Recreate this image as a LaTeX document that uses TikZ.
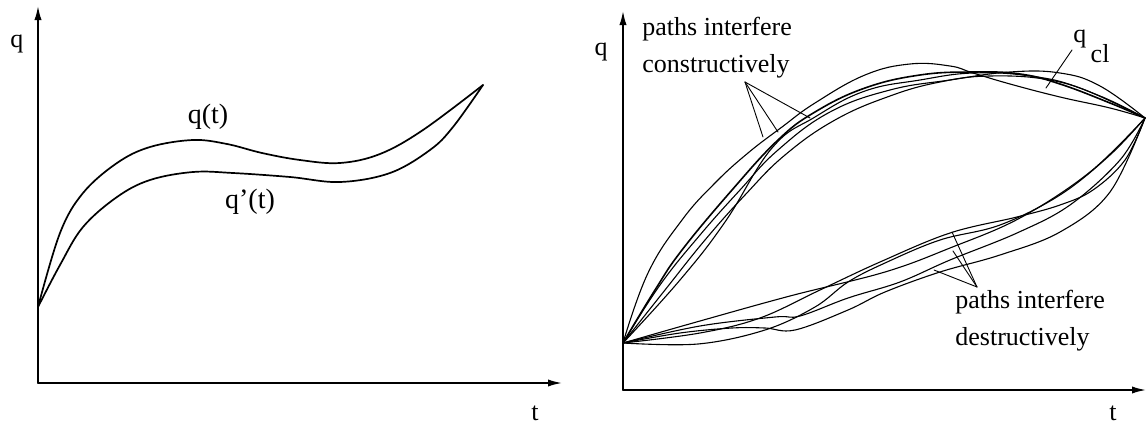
\documentclass[tikz,border=0pt]{standalone}
\usepackage{fontspec}
\setmainfont{Liberation Serif}
\usetikzlibrary{arrows.meta}

\begin{document}
\begin{tikzpicture}[
    x=0.5pt, y=-0.5pt,
    line cap=round,
    line join=round,
    axis/.style={line width=0.8pt, -{Latex[length=7pt,width=3.6pt]}},
    traj/.style={line width=0.55pt},
    lbl/.style={font=\fontsize{13}{18.5}\selectfont, inner sep=0pt},
    pointer/.style={line width=0.45pt}
]
\useasboundingbox (0,0) rectangle (1148,423);

% 1. Left panel: two neighbouring paths
\coordinate (O1) at (38,383);
\draw[axis] (O1) -- (38,6);
\draw[axis] (O1) -- (562,383);
\node[lbl, anchor=base] (q1) at (17,47) {q};
\node[lbl, anchor=base] (t1) at (535,420) {t};
\draw[line width=0.85pt] plot[smooth, tension=0.6] coordinates {(38,307) (60,233) (83,193) (117,163) (150,147) (193,140) (227,144) (262,153) (300,160) (340,163) (380,154) (423,130) (483,85)};
\draw[line width=0.85pt] plot[smooth, tension=0.6] coordinates {(38,307) (60,265) (83,227) (117,197) (150,180) (193,172) (233,173) (290,177) (340,182) (390,173) (430,150) (453,127) (483,85)};
\node[lbl, font=\fontsize{14}{16}\selectfont, anchor=base] (qt) at (208,123) {q(t)};
\node[lbl, font=\fontsize{14}{16}\selectfont, anchor=base] (qpt) at (250,208) {q’(t)};

% 2. Right panel: many paths between the same end points
\coordinate (O2) at (623,390);
\draw[axis] (O2) -- (623,11);
\draw[axis] (O2) -- (1146,390);
\node[lbl, anchor=base] (q2) at (601,55) {q};
\node[lbl, anchor=base] (t2) at (1113,420) {t};

% paths near the classical one
\draw[traj] plot[smooth, tension=0.7] coordinates {(623,343) (648,273) (682,220) (715,183) (748,153) (782,127) (815,103) (865,75) (910,64) (950,66) (973,73) (1010,84) (1060,97) (1110,108) (1145,118)};
\draw[line width=0.8pt] plot[smooth, tension=0.7] coordinates {(623,343) (655,290) (682,250) (732,190) (778,140) (815,112) (865,88) (920,75) (973,72) (1020,74) (1060,84) (1110,103) (1145,118)};
\draw[traj] plot[smooth, tension=0.7] coordinates {(623,343) (660,285) (700,235) (740,190) (778,150) (830,112) (890,90) (950,80) (1010,72) (1060,73) (1100,86) (1145,118)};
\draw[traj] plot[smooth, tension=0.7] coordinates {(623,343) (680,280) (725,222) (772,148) (815,117) (865,91) (920,80) (973,73) (1030,76) (1080,88) (1145,118)};
\draw[traj] plot[smooth, tension=0.7] coordinates {(623,343) (665,290) (705,240) (745,195) (785,155) (835,120) (890,96) (940,82) (990,76) (1050,80) (1100,96) (1145,118)};

% paths far from it
\draw[traj] plot[smooth, tension=0.6] coordinates {(623,343) (700,321) (790,296) (885,272) (950,248) (1020,218) (1090,172) (1145,118)};
\draw[traj] plot[smooth, tension=0.6] coordinates {(623,343) (698,344) (765,330) (815,307) (848,282) (885,263) (940,240) (1000,225) (1060,195) (1110,155) (1145,118)};
\draw[traj] plot[smooth, tension=0.6] coordinates {(623,343) (680,333) (732,328) (765,328) (795,330) (848,310) (885,292) (940,272) (1000,255) (1060,232) (1110,192) (1145,118)};
\draw[traj] plot[smooth, tension=0.6] coordinates {(623,343) (700,326) (775,317) (800,316) (848,298) (900,282) (950,260) (1017,233) (1070,205) (1120,160) (1145,118)};
\draw[traj] plot[smooth, tension=0.6] coordinates {(623,343) (700,333) (760,318) (820,290) (880,262) (950,233) (1017,217) (1060,205) (1093,190) (1125,160) (1145,118)};

% 3. Labels and pointers
\node[lbl, anchor=base west, align=left] (cons) at (642,72) {paths interfere\\constructively};
\coordinate (capex) at (745,82);
\draw[pointer] (capex) -- (763,137);
\draw[pointer] (capex) -- (778,132);
\draw[pointer] (capex) -- (810,118);

\node[lbl, anchor=base west] (qcl) at (1073,42) {q\,\raisebox{-10pt}{cl}};
\draw[pointer] (1046,88) -- (1072,50);

\node[lbl, anchor=base west, align=left] (dest) at (955,345) {paths interfere\\destructively};
\coordinate (dapex) at (977,287);
\draw[pointer] (dapex) -- (952,232);
\draw[pointer] (dapex) -- (953,251);
\draw[pointer] (dapex) -- (934,270);
\end{tikzpicture}
\end{document}
